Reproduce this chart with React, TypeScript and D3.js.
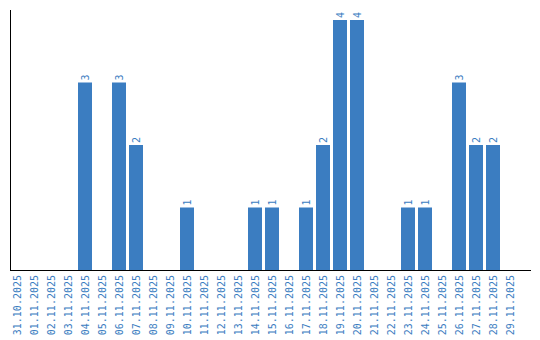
import React from "react";
import * as d3 from "d3";

const categories: string[] = [
  "31.10.2025", "01.11.2025", "02.11.2025", "03.11.2025", "04.11.2025",
  "05.11.2025", "06.11.2025", "07.11.2025", "08.11.2025", "09.11.2025",
  "10.11.2025", "11.11.2025", "12.11.2025", "13.11.2025", "14.11.2025",
  "15.11.2025", "16.11.2025", "17.11.2025", "18.11.2025", "19.11.2025",
  "20.11.2025", "21.11.2025", "22.11.2025", "23.11.2025", "24.11.2025",
  "25.11.2025", "26.11.2025", "27.11.2025", "28.11.2025", "29.11.2025",
];
const values: number[] = [
  0, 0, 0, 0, 3, 0, 3, 2, 0, 0,
  1, 0, 0, 0, 1, 1, 0, 1, 2, 4,
  4, 0, 0, 1, 1, 0, 3, 2, 2, 0,
];

const W = 540;
const H = 340;
const left = 10;
const axisRight = 531;
const top = 10;
const bottom = 270;
const barColor = "#3b7dc1";
const textColor = "#3b7dc1";
const font = "'DejaVu Sans Mono', monospace";

export default function App() {
  const step = 17;
  const inner = 3 / 17;
  const x = d3
    .scaleBand<string>()
    .domain(categories)
    .range([left, left + step * categories.length - 3])
    .paddingInner(inner)
    .paddingOuter(0);
  const y = d3.scaleLinear().domain([0, 4]).range([bottom, 20]);

  return (
    <svg
      width={W}
      height={H}
      style={{ position: "absolute", left: 0, top: 0 }}
    >
      <rect width={W} height={H} fill="#ffffff" />
      {categories.map((c, i) => {
        const v = values[i];
        if (!v) return null;
        const bx = x(c)!;
        return (
          <rect
            key={c}
            x={bx}
            y={y(v)}
            width={x.bandwidth()}
            height={y(0) - y(v)}
            fill={barColor}
          />
        );
      })}
      {categories.map((c, i) => {
        const v = values[i];
        if (!v) return null;
        const cx = x(c)! + x.bandwidth() / 2;
        return (
          <text
            key={"v" + c}
            transform={`translate(${cx + 4},${y(v) - 2}) rotate(-90)`}
            fontFamily={font}
            fontSize={10}
            fill={textColor}
            textAnchor="start"
          >
            {v}
          </text>
        );
      })}
      <line x1={left + 0.5} x2={left + 0.5} y1={top} y2={bottom + 1} stroke="#000" strokeWidth={1} />
      <line x1={left} x2={axisRight} y1={bottom + 0.5} y2={bottom + 0.5} stroke="#000" strokeWidth={1} />
      {categories.map((c) => {
        const cx = x(c)! + x.bandwidth() / 2;
        return (
          <text
            key={"l" + c}
            transform={`translate(${cx + 4},${bottom + 5}) rotate(-90)`}
            fontFamily={font}
            fontSize={10}
            fill={textColor}
            textAnchor="end"
          >
            {c}
          </text>
        );
      })}
    </svg>
  );
}
